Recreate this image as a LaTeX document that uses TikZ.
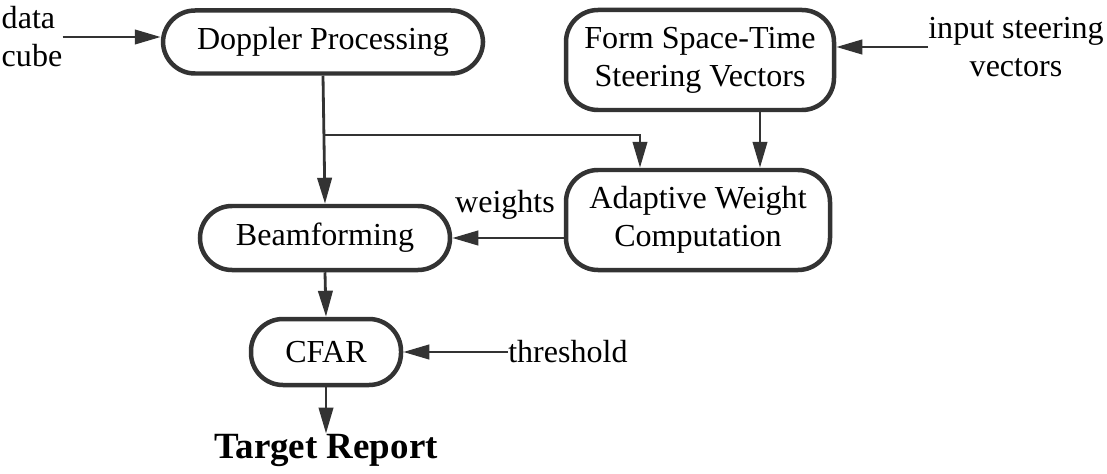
\documentclass[tikz,border=0pt]{standalone}
\usepackage{fontspec}
\setmainfont{Liberation Serif}
\usepackage{tikz}
\usetikzlibrary{arrows.meta,positioning,calc}
\definecolor{ink}{gray}{0.2}
\newcommand{\figfont}{\rmfamily\fontsize{22.8}{27}\selectfont}
\tikzstyle{bS}=[draw=ink, line width=3.2pt, rounded corners=0.8cm, align=center, inner sep=0pt, font=\figfont]
\tikzstyle{tS}=[inner sep=0pt, font=\figfont]
\tikzstyle{aS}=[draw=ink, line width=2pt, -{Triangle[length=0.65cm,width=0.36cm]}]

\begin{document}
\begin{tikzpicture}[scale=1]%[x=1 cm, y=1 cm]
                \useasboundingbox (0,0) rectangle (27.675,11.825);
                \draw (8.075,10.775) node[bS, minimum width=8cm, minimum height=1.575cm] (dop) {Doppler Processing};
                \draw (17.5,10.325) node[bS, minimum width=6.7cm, minimum height=2.5cm] (form) {Form Space-Time\\Steering Vectors};
                \draw (17.45,6.325) node[bS, minimum width=6.6cm, minimum height=2.5cm] (adapt) {Adaptive Weight\\Computation};
                \draw (8.125,5.875) node[bS, minimum width=6.25cm, minimum height=1.6cm] (beam) {Beamforming};
                \draw (8.15,3.025) node[bS, minimum width=3.75cm, minimum height=1.65cm] (cfar) {CFAR};
                \draw (8.15,0.575) node[tS, font=\rmfamily\bfseries\fontsize{26.3}{30}\selectfont] (rep) {Target Report};
                \draw (0.8,10.9) node[tS, align=left] (cube) {data\\cube};
                \draw (25.4,10.65) node[tS, align=center] (steer) {input steering\\vectors};
                \draw (12.625,6.7) node[tS] (wts) {weights};
                \draw (12.7,3.025) node[tS, anchor=west] (thr) {threshold};
                \coordinate (br) at (8.075,8.45);
                \path
                    (cube.east) edge[aS] (cube.east -| dop.west)
                    (dop.south) edge[aS] (beam.north)
                    (steer.west) edge[aS] (steer.west -| form.east)
                    ([xshift=1.5cm]form.south) edge[aS] ([xshift=1.5cm]form.south |- adapt.north)
                    (beam.east -| adapt.west) edge[aS] (beam.east)
                    (beam.south) edge[aS] (cfar.north)
                    (thr.west) edge[aS] (cfar.east)
                    (cfar.south) edge[aS] (rep.north)
                ;
                \draw[aS] (br) -| ([xshift=-1.45cm]adapt.north);
        \end{tikzpicture}
\end{document}
